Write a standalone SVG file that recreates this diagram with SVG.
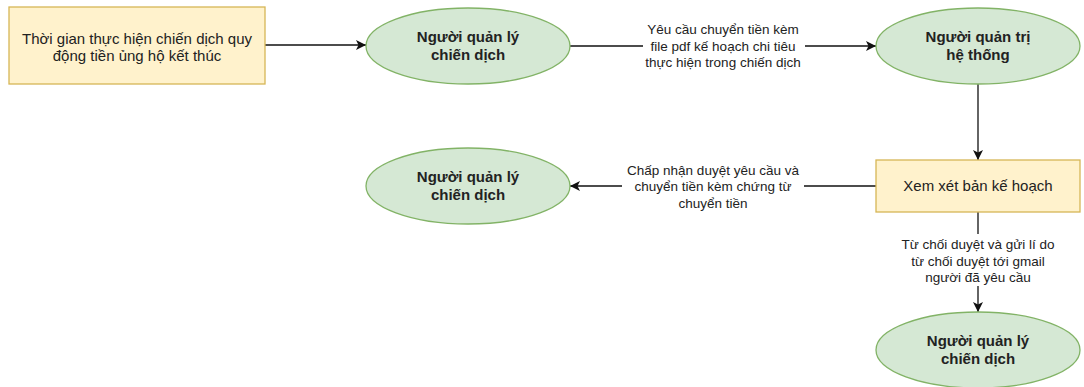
<svg xmlns="http://www.w3.org/2000/svg" width="1084" height="387" viewBox="0 0 1084 387">
<style>
.rect{fill:#fff2cc;stroke:#d6b656;stroke-width:1.3}
.ell{fill:#d5e8d4;stroke:#82b366;stroke-width:1.3}
.nt{font-family:"Liberation Sans",Arial,sans-serif;font-size:15px;fill:#222;text-anchor:middle}
.bt{font-family:"Liberation Sans",Arial,sans-serif;font-size:15px;font-weight:bold;fill:#222;text-anchor:middle}
.lt{font-family:"Liberation Sans",Arial,sans-serif;font-size:13.5px;fill:#222;text-anchor:middle}
.edge{stroke:#111;stroke-width:1.3;fill:none}
.lbg{fill:#fff}
</style>
<defs>
<marker id="arr" viewBox="0 0 10 10" refX="10" refY="5" markerWidth="10" markerHeight="10" markerUnits="userSpaceOnUse" orient="auto">
<path d="M0,0 L10,5 L0,10 L2.5,5 Z" fill="#111"/>
</marker>
</defs>
<rect width="1084" height="387" fill="#fff"/>
<g id="connectors">
<line class="edge" x1="265" y1="45" x2="366" y2="45" marker-end="url(#arr)"/>
<line class="edge" x1="570" y1="46" x2="876" y2="46" marker-end="url(#arr)"/>
<line class="edge" x1="978" y1="84" x2="978" y2="160" marker-end="url(#arr)"/>
<line class="edge" x1="876" y1="186" x2="570" y2="186" marker-end="url(#arr)"/>
<line class="edge" x1="978" y1="212" x2="978" y2="312" marker-end="url(#arr)"/>
<rect class="lbg" x="643" y="18" width="162" height="52"/>
<text class="lt" x="723" y="34">Yêu cầu chuyển tiền kèm</text>
<text class="lt" x="723" y="51">file pdf kế hoạch chi tiêu</text>
<text class="lt" x="723" y="67">thực hiện trong chiến dịch</text>
<rect class="lbg" x="622" y="160" width="182" height="52"/>
<text class="lt" x="713" y="175">Chấp nhận duyệt yêu cầu và</text>
<text class="lt" x="713" y="191">chuyển tiền kèm chứng từ</text>
<text class="lt" x="713" y="208">chuyển tiền</text>
<rect class="lbg" x="895" y="234" width="166" height="52"/>
<text class="lt" x="978" y="249">Từ chối duyệt và gửi lí do</text>
<text class="lt" x="978" y="266">từ chối duyệt tới gmail</text>
<text class="lt" x="978" y="282">người đã yêu cầu</text>
</g>
<g id="start">
<rect class="rect" x="9" y="7" width="256" height="77"/>
<text class="nt" x="137" y="44">Thời gian thực hiện chiến dịch quy</text>
<text class="nt" x="137" y="61">động tiền ủng hộ kết thúc</text>
</g>
<g id="manager1">
<ellipse class="ell" cx="468" cy="46" rx="102" ry="38"/>
<text class="bt" x="468" y="42">Người quản lý</text>
<text class="bt" x="468" y="60">chiến dịch</text>
</g>
<g id="admin">
<ellipse class="ell" cx="978" cy="46" rx="102" ry="38"/>
<text class="bt" x="978" y="42">Người quản trị</text>
<text class="bt" x="978" y="60">hệ thống</text>
</g>
<g id="review">
<rect class="rect" x="876" y="160" width="204" height="52"/>
<text class="nt" x="978" y="191">Xem xét bản kế hoạch</text>
</g>
<g id="manager2">
<ellipse class="ell" cx="468" cy="186" rx="102" ry="38"/>
<text class="bt" x="468" y="182">Người quản lý</text>
<text class="bt" x="468" y="200">chiến dịch</text>
</g>
<g id="manager3">
<ellipse class="ell" cx="978" cy="350" rx="102" ry="38"/>
<text class="bt" x="978" y="346">Người quản lý</text>
<text class="bt" x="978" y="364">chiến dịch</text>
</g>
</svg>
